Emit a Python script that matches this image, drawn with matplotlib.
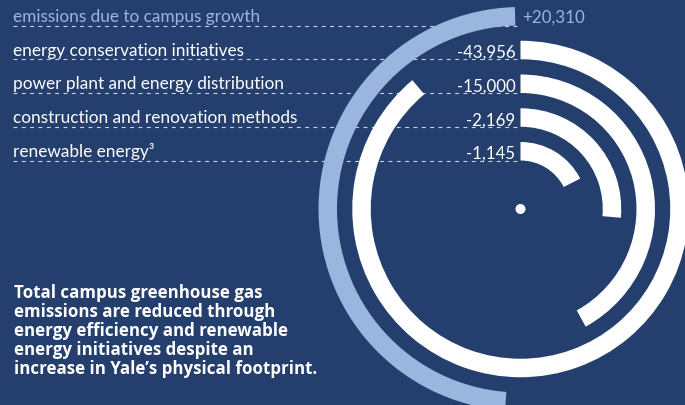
import matplotlib.pyplot as plt
from matplotlib.patches import Wedge, Circle

labels = ['emissions due to campus growth', 'energy conservation initiatives',
          'power plant and energy distribution', 'construction and renovation methods',
          'renewable energy\u00b3']
values = [20310, -43956, -15000, -2169, -1145]
value_text = ['+20,310', '-43,956', '-15,000', '-2,169', '-1,145']
# arc length of each ring as drawn in the graphic (degrees)
sweep_deg = [174, 320, 151, 95, 63]
note = ('Total campus greenhouse gas\nemissions are reduced through\n'
        'energy efficiency and renewable\nenergy initiatives despite an\n'
        'increase in Yale\u2019s physical footprint.')

bg = '#243f6d'
light = '#9ab6df'
white = '#ffffff'

fig = plt.figure(figsize=(6.85, 4.06), dpi=100, facecolor=bg)
ax = fig.add_axes([0, 0, 1, 1])
ax.set_facecolor(bg)
ax.set_xlim(0, 685)
ax.set_ylim(406, 0)
ax.axis('off')

cx, cy = 520.5, 210
r_out, pitch, ring_w = 202, 33.75, 18.5

for i, (lab, val, txt, sweep) in enumerate(zip(labels, values, value_text, sweep_deg)):
    outer = r_out - i * pitch
    y_line = cy - (outer - ring_w)
    col = light if val > 0 else white

    # dashed guide line
    ln, = ax.plot([13, cx], [y_line, y_line], color='#c9d3e4', lw=0.8, zorder=1)
    ln.set_dashes((3.5, 4))

    # ring (y axis inverted: increasing angle = clockwise)
    if val > 0:
        w = Wedge((cx, cy), outer, -90 - sweep - 1.6, -90 - 1.6, width=ring_w,
                  facecolor=col, edgecolor='none', zorder=2)
    else:
        w = Wedge((cx, cy), outer, -90, -90 + sweep, width=ring_w,
                  facecolor=col, edgecolor='none', zorder=2)
    ax.add_patch(w)

    ax.text(13, y_line - 4.5, lab, color=col, fontsize=12.4, family='Lato',
            va='baseline', ha='left', zorder=3)
    if val > 0:
        ax.text(cx + 2, y_line - 3.5, txt, color=col, fontsize=12.2, family='Lato',
                va='baseline', ha='left', zorder=3)
    else:
        ax.text(cx - 5, y_line - 2.5, txt, color=col, fontsize=12.2, family='Lato',
                va='baseline', ha='right', zorder=3)

ax.add_patch(Circle((cx, cy), 5, facecolor=white, edgecolor='none', zorder=3))

ax.text(14, 284, note, color=white, fontsize=12.2, family='Open Sans', fontweight='bold',
        va='top', ha='left', linespacing=1.07, zorder=3)

fig.savefig('out.png', dpi=100, facecolor=bg)
